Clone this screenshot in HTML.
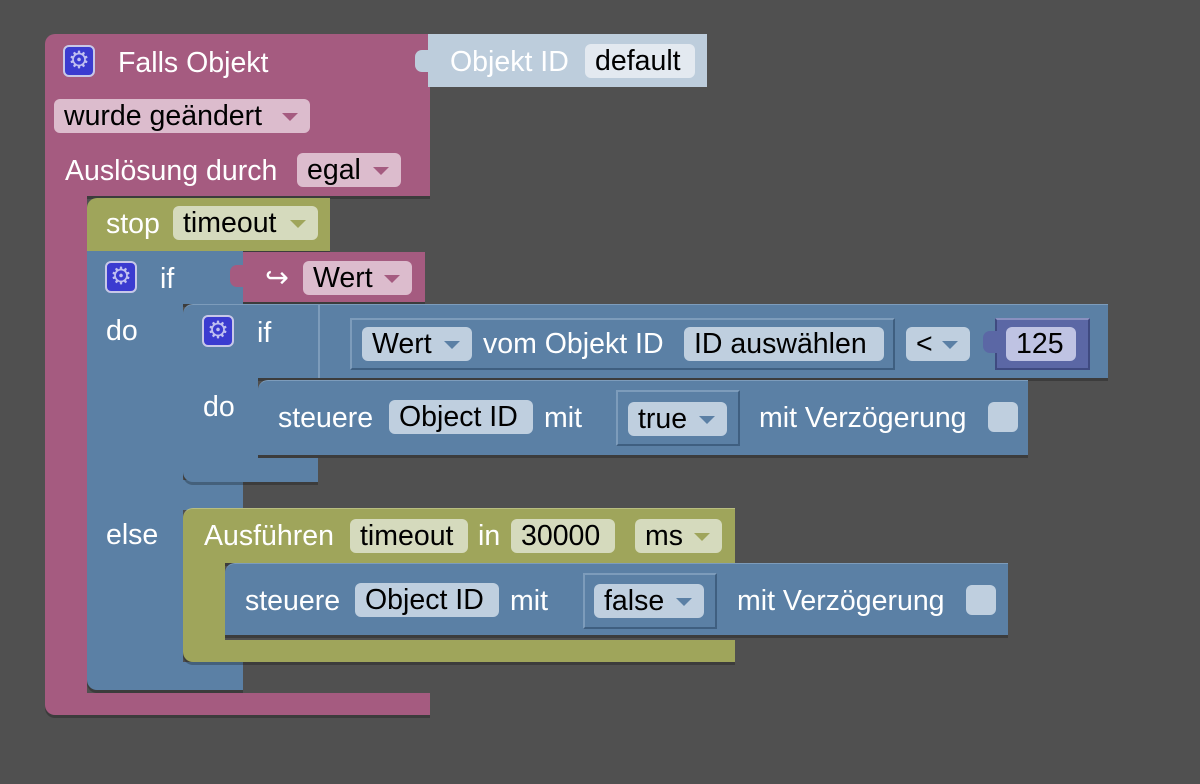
<!DOCTYPE html>
<html><head><meta charset="utf-8"><style>
body{margin:0;width:1200px;height:784px;background:#505050;position:relative;overflow:hidden;font-family:"Liberation Sans",sans-serif;}
div{position:absolute;box-sizing:border-box;}
.p{background:#a55b80;}
.g{background:#9fa55b;}
.bl{background:#5b80a5;}
.t{color:#fff;font-size:28.5px;line-height:30px;white-space:nowrap;}
.f{border-radius:6px;color:#000;font-size:28.5px;line-height:34px;height:34px;padding-left:10px;white-space:nowrap;}
.fp{background:#dcbccd;}
.fg{background:#d5dabd;}
.fb{background:#bfcfdf;}
.ar{position:absolute;right:12px;top:14px;width:0;height:0;border-left:8px solid transparent;border-right:8px solid transparent;}
.ap{border-top:8px solid #a55b80;}
.ag{border-top:8px solid #9fa55b;}
.ab{border-top:8px solid #5b80a5;}
.gear{width:32px;height:32px;background:#3b3bd0;border:2px solid #c8c8e8;border-radius:6px;color:#c0c0f0;font-size:24px;line-height:28px;text-align:center;}
.sh{box-shadow:0 3px 0 rgba(0,0,0,0.25);}
.cb{background:#bfcfdf;border-radius:6px;width:30px;height:30px;}
</style></head><body>

<!-- pink event block -->
<div class="p sh" style="left:45px;top:34px;width:385px;height:162px;border-radius:10px 0 0 0;"></div>
<div class="p" style="left:45px;top:190px;width:42px;height:510px;"></div>
<div class="p sh" style="left:45px;top:693px;width:385px;height:22px;border-radius:0 0 0 10px;"></div>
<div class="gear" style="left:63px;top:45px;">⚙</div>
<div class="t" style="left:118px;top:48px;">Falls Objekt</div>
<div class="f fp" style="left:54px;top:99px;width:256px;">wurde geändert<span class="ar ap"></span></div>
<div class="t" style="left:65px;top:156px;">Auslösung durch</div>
<div class="f fp" style="left:297px;top:153px;width:104px;">egal<span class="ar ap"></span></div>

<!-- Objekt ID block -->
<div style="left:428px;top:34px;width:279px;height:53px;background:#bdcddc;"></div>
<div style="left:415px;top:50px;width:14px;height:22px;background:#bdcddc;border-radius:7px 0 0 7px;"></div>
<div class="t" style="left:450px;top:47px;color:#fff;">Objekt ID</div>
<div class="f" style="left:585px;top:44px;width:110px;background:#e3e9f0;">default</div>

<!-- green stop -->
<div class="g sh" style="left:87px;top:198px;width:243px;height:53px;border-radius:10px 0 0 0;"></div>
<div class="t" style="left:106px;top:209px;">stop</div>
<div class="f fg" style="left:173px;top:206px;width:145px;">timeout<span class="ar ag"></span></div>

<!-- outer if -->
<div class="bl sh" style="left:87px;top:251px;width:156px;height:53px;"></div>
<div class="bl" style="left:87px;top:300px;width:96px;height:370px;"></div>
<div class="bl" style="left:87px;top:480px;width:156px;height:30px;"></div>
<div class="bl sh" style="left:87px;top:662px;width:156px;height:28px;border-radius:0 0 0 10px;"></div>
<div class="gear" style="left:105px;top:261px;">⚙</div>
<div class="t" style="left:160px;top:264px;">if</div>
<div class="t" style="left:106px;top:316px;">do</div>
<div class="t" style="left:106px;top:520px;">else</div>

<!-- Wert pink -->
<div class="p sh" style="left:243px;top:252px;width:182px;height:50px;"></div>
<div class="p" style="left:230px;top:265px;width:14px;height:22px;border-radius:7px 0 0 7px;"></div>
<div class="t" style="left:265px;top:263px;">↪</div>
<div class="f fp" style="left:303px;top:261px;width:109px;">Wert<span class="ar ap"></span></div>

<!-- inner if -->
<div class="bl sh" style="left:183px;top:304px;width:925px;height:74px;border-radius:10px 0 0 0;border-top:1px solid #7d9cbb;"></div>
<div class="bl" style="left:183px;top:375px;width:75px;height:90px;"></div>
<div class="bl sh" style="left:183px;top:458px;width:135px;height:24px;border-radius:0 0 0 10px;"></div>
<div class="gear" style="left:202px;top:315px;">⚙</div>
<div class="t" style="left:257px;top:318px;">if</div>
<div class="t" style="left:203px;top:392px;">do</div>
<div style="left:318px;top:304px;width:2px;height:74px;background:#7d9cbb;"></div>

<!-- compare inner -->
<div style="left:350px;top:318px;width:545px;height:52px;border:2px solid #3f5f80;border-top-color:#7d9cbb;border-left-color:#7d9cbb;background:#5b80a5;"></div>
<div class="f fb" style="left:362px;top:327px;width:110px;">Wert<span class="ar ab"></span></div>
<div class="t" style="left:483px;top:329px;">vom Objekt ID</div>
<div class="f fb" style="left:684px;top:327px;width:200px;">ID auswählen</div>
<div class="f fb" style="left:906px;top:327px;width:64px;">&lt;<span class="ar ab"></span></div>
<div style="left:995px;top:318px;width:95px;height:52px;background:#5b67a5;border:2px solid #3f4a80;border-top-color:#8a90c0;"></div>
<div style="left:983px;top:331px;width:14px;height:22px;background:#5b67a5;border-radius:7px 0 0 7px;"></div>
<div class="f" style="left:1006px;top:327px;width:70px;background:#bfc3e3;">125</div>

<!-- steuere 1 -->
<div class="bl sh" style="left:258px;top:380px;width:770px;height:75px;border-radius:10px 0 0 0;border-top:1px solid #7d9cbb;"></div>
<div class="t" style="left:278px;top:403px;">steuere</div>
<div class="f fb" style="left:389px;top:400px;width:144px;">Object ID</div>
<div class="t" style="left:544px;top:403px;">mit</div>
<div style="left:616px;top:390px;width:124px;height:56px;border:2px solid #3f5f80;border-top-color:#7d9cbb;border-left-color:#7d9cbb;"></div>
<div class="f fb" style="left:628px;top:402px;width:99px;">true<span class="ar ab"></span></div>
<div class="t" style="left:759px;top:403px;">mit Verzögerung</div>
<div class="cb" style="left:988px;top:402px;"></div>

<!-- green Ausführen -->
<div class="g sh" style="left:183px;top:508px;width:552px;height:55px;border-radius:10px 0 0 0;border-top:1px solid #b8bd80;"></div>
<div class="g" style="left:183px;top:560px;width:42px;height:90px;"></div>
<div class="g sh" style="left:183px;top:640px;width:552px;height:22px;border-radius:0 0 0 10px;"></div>
<div class="t" style="left:204px;top:521px;">Ausführen</div>
<div class="f fg" style="left:350px;top:519px;width:118px;">timeout</div>
<div class="t" style="left:478px;top:521px;">in</div>
<div class="f fg" style="left:511px;top:519px;width:104px;">30000</div>
<div class="f fg" style="left:635px;top:519px;width:87px;">ms<span class="ar ag"></span></div>

<!-- steuere 2 -->
<div class="bl sh" style="left:225px;top:563px;width:783px;height:72px;border-radius:10px 0 0 0;border-top:1px solid #7d9cbb;"></div>
<div class="t" style="left:245px;top:586px;">steuere</div>
<div class="f fb" style="left:355px;top:583px;width:144px;">Object ID</div>
<div class="t" style="left:510px;top:586px;">mit</div>
<div style="left:583px;top:573px;width:134px;height:56px;border:2px solid #3f5f80;border-top-color:#7d9cbb;border-left-color:#7d9cbb;"></div>
<div class="f fb" style="left:594px;top:584px;width:110px;">false<span class="ar ab"></span></div>
<div class="t" style="left:737px;top:586px;">mit Verzögerung</div>
<div class="cb" style="left:966px;top:585px;"></div>

</body></html>
